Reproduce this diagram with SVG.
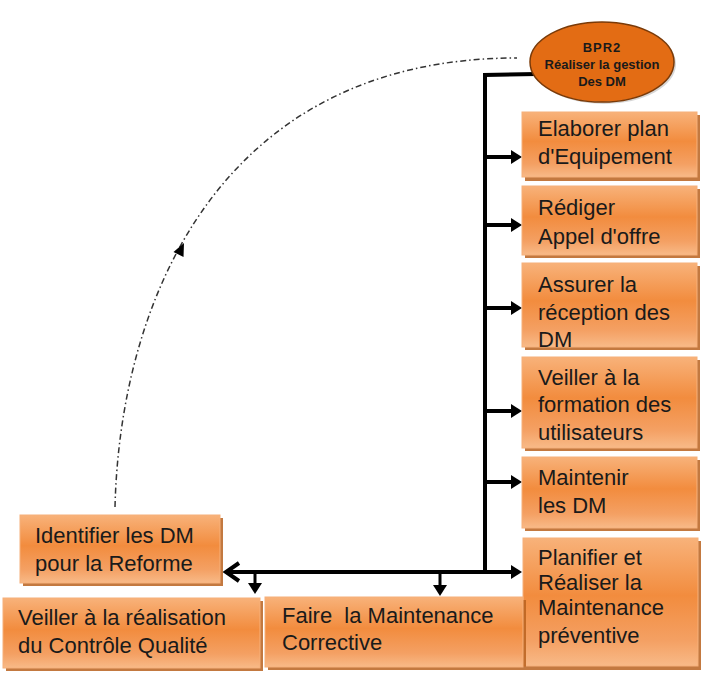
<svg xmlns="http://www.w3.org/2000/svg" width="705" height="674" viewBox="0 0 705 674">
<defs>
<linearGradient id="gb" x1="0" y1="0" x2="0" y2="1">
<stop offset="0" stop-color="#F8B27A"/>
<stop offset="0.45" stop-color="#F28C3E"/>
<stop offset="0.8" stop-color="#F4A063"/>
<stop offset="1" stop-color="#F8BA88"/>
</linearGradient>
<polygon id="ar" points="0,0 -11,-7 -11,7" fill="#000"/>
</defs>
<style>
.box{fill:url(#gb);stroke:#F6B07A;stroke-width:1}
.sh{fill:#B8621F;opacity:0.85}
.t{font-family:"Liberation Sans",Arial,sans-serif;font-size:22px;fill:#1a1a1a}
.et{font-family:"Liberation Sans",Arial,sans-serif;font-size:13px;font-weight:bold;fill:#1a1a1a;text-anchor:middle}
.c{fill:none;stroke:#000;stroke-width:4}
</style>
<rect width="705" height="674" fill="#fff"/>

<g id="connectors">
<path d="M115,507 C120,300 220,58 517,58" fill="none" stroke="#333" stroke-width="1.5" stroke-dasharray="6,3,1.5,3"/>
<polygon points="184,243 183.5,257 173.5,252" fill="#000"/>
<path class="c" d="M537,74 L485,75 L485,572"/>
<path class="c" d="M485,157 L512,157"/>
<use href="#ar" x="522" y="157"/>
<path class="c" d="M485,225 L512,225"/>
<use href="#ar" x="522" y="225"/>
<path class="c" d="M485,308 L512,308"/>
<use href="#ar" x="522" y="308"/>
<path class="c" d="M485,411 L512,411"/>
<use href="#ar" x="522" y="411"/>
<path class="c" d="M485,482 L512,482"/>
<use href="#ar" x="522" y="482"/>
<path class="c" d="M226,572 L512,572"/>
<use href="#ar" x="522" y="572"/>
<path d="M239,563 L226,572 L239,581" fill="none" stroke="#000" stroke-width="4"/>
<path d="M255,572 L255,584" fill="none" stroke="#000" stroke-width="3"/>
<polygon points="248,583 262,583 255,594" fill="#000"/>
<path d="M440,572 L440,586" fill="none" stroke="#000" stroke-width="3"/>
<polygon points="433,585 447,585 440,596" fill="#000"/>
</g>

<g id="bpr2">
<ellipse cx="604" cy="64" rx="72" ry="40" fill="#999" opacity="0.4"/>
<ellipse cx="602" cy="62" rx="72" ry="40" fill="#E36C14" stroke="#7a3a08" stroke-width="1.5"/>
<text class="et" x="602" y="52" letter-spacing="1">BPR2</text>
<text class="et" x="602" y="69">Réaliser la gestion</text>
<text class="et" x="602" y="86">Des DM</text>
</g>

<g id="n1">
<rect class="sh" x="525" y="115" width="175" height="66"/>
<rect class="box" x="522" y="112" width="175" height="65"/>
<text class="t" x="538" y="136">Elaborer plan</text>
<text class="t" x="538" y="164">d'Equipement</text>
</g>
<g id="n2">
<rect class="sh" x="525" y="189" width="175" height="69"/>
<rect class="box" x="522" y="186" width="175" height="69"/>
<text class="t" x="538" y="215">Rédiger</text>
<text class="t" x="538" y="244">Appel d'offre</text>
</g>
<g id="n3">
<rect class="sh" x="525" y="266" width="175" height="84"/>
<rect class="box" x="522" y="263" width="175" height="84"/>
<text class="t" x="538" y="292">Assurer la</text>
<text class="t" x="538" y="320">réception des</text>
<text class="t" x="538" y="347">DM</text>
</g>
<g id="n4">
<rect class="sh" x="525" y="360" width="175" height="91"/>
<rect class="box" x="522" y="357" width="175" height="91"/>
<text class="t" x="538" y="385">Veiller à la</text>
<text class="t" x="538" y="412">formation des</text>
<text class="t" x="538" y="440">utilisateurs</text>
</g>
<g id="n5">
<rect class="sh" x="525" y="460" width="175" height="71"/>
<rect class="box" x="522" y="457" width="175" height="71"/>
<text class="t" x="538" y="485">Maintenir</text>
<text class="t" x="538" y="513">les DM</text>
</g>
<g id="n6">
<rect class="sh" x="526" y="541" width="175" height="129"/>
<rect class="box" x="523" y="538" width="175" height="128"/>
<text class="t" x="538" y="565">Planifier et</text>
<text class="t" x="538" y="590">Réaliser la</text>
<text class="t" x="538" y="615">Maintenance</text>
<text class="t" x="538" y="643">préventive</text>
</g>
<g id="n7">
<rect class="sh" x="23" y="518" width="200" height="68"/>
<rect class="box" x="20" y="515" width="200" height="68"/>
<text class="t" x="35" y="543">Identifier les DM</text>
<text class="t" x="35" y="571">pour la Reforme</text>
</g>
<g id="n8">
<rect class="sh" x="6" y="601" width="257" height="70"/>
<rect class="box" x="3" y="598" width="257" height="70"/>
<text class="t" x="18" y="625">Veiller à la réalisation</text>
<text class="t" x="18" y="653">du Contrôle Qualité</text>
</g>
<g id="n9">
<rect class="sh" x="268" y="600" width="258" height="70"/>
<rect class="box" x="265" y="597" width="258" height="70"/>
<text class="t" x="282" y="623" xml:space="preserve">Faire  la Maintenance</text>
<text class="t" x="282" y="650">Corrective</text>
</g>
</svg>
